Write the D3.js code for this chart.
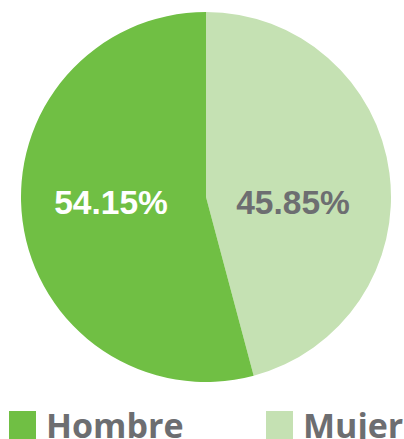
<!DOCTYPE html>
<html><head><meta charset="utf-8">
<script src="https://cdn.jsdelivr.net/npm/d3@7"></script>
<style>html,body{margin:0;padding:0;background:#fff;overflow:hidden}</style>
</head><body>
<svg id="c" width="404" height="439"></svg>
<script>
const categories = ["Mujer", "Hombre"];
const values = [45.85, 54.15];
const labels = ["45.85%", "54.15%"];
const legendOrder = ["Hombre", "Mujer"];

const colors = d3.scaleOrdinal().domain(categories).range(["#C5E1B3", "#70BF44"]);
const labelColors = d3.scaleOrdinal().domain(categories).range(["#6D6E71", "#FFFFFF"]);

const svg = d3.select("#c");
const cx = 206, cy = 197, r = 185;
const g = svg.append("g").attr("transform", `translate(${cx},${cy})`);
const pie = d3.pie().sort(null).value(d => d.v);
const data = categories.map((c, i) => ({c, v: values[i], l: labels[i]}));
const arcs = pie(data);
const arc = d3.arc().innerRadius(0).outerRadius(r);
g.selectAll("path").data(arcs).enter().append("path")
  .attr("d", arc).attr("fill", d => colors(d.data.c));

const labelArc = d3.arc().innerRadius(r * 0.5).outerRadius(r * 0.5);
g.selectAll("text").data(arcs).enter().append("text")
  .attr("x", d => d.data.c === "Hombre" ? -95 : 87)
  .attr("y", 17)
  .attr("text-anchor", "middle")
  .attr("font-family", "Liberation Sans, Arial, sans-serif")
  .attr("font-weight", "bold")
  .attr("font-size", "33.5px")
  .attr("fill", d => labelColors(d.data.c))
  .text(d => d.data.l);

const lx = [9, 266];
const lg = svg.append("g");
legendOrder.forEach((c, i) => {
  lg.append("rect").attr("x", lx[i]).attr("y", 411).attr("width", 27).attr("height", 28)
    .attr("fill", colors(c));
  lg.append("text").attr("x", lx[i] + 37).attr("y", 438)
    .attr("font-family", "Open Sans, sans-serif").attr("font-weight", "bold")
    .attr("font-size", "34px").attr("fill", "#6D6E71").text(c);
});
</script>
</body></html>
